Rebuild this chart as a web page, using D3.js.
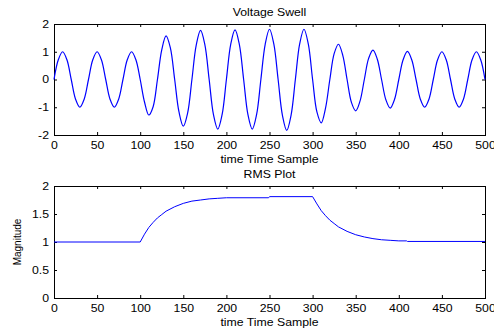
<!DOCTYPE html>
<html>
<head>
<meta charset="utf-8">
<script src="https://cdn.jsdelivr.net/npm/d3@7"></script>
<style>
  body { margin: 0; background: #fff; }
  svg { display: block; }
  text { font-family: "Liberation Sans", Arial, sans-serif; }
</style>
</head>
<body>
<svg class="mainSvg"></svg>
<script>
(function () {

  // ===========================================================================
  //     data area
  // ===========================================================================
  const swellSample = [
    0, 5, 10, 15, 20, 25, 30, 35, 40, 45, 50, 55, 60, 65, 70, 75, 80, 85, 90, 95,
    100, 105, 110, 115, 120, 125, 130, 135, 140, 145, 150, 155, 160, 165, 170, 175, 180, 185, 190, 195,
    200, 205, 210, 215, 220, 225, 230, 235, 240, 245, 250, 255, 260, 265, 270, 275, 280, 285, 290, 295,
    300, 305, 310, 315, 320, 325, 330, 335, 340, 345, 350, 355, 360, 365, 370, 375, 380, 385, 390, 395,
    400, 405, 410, 415, 420, 425, 430, 435, 440, 445, 450, 455, 460, 465, 470, 475, 480, 485, 490, 495, 500,
  ];
  const swellValue = [
    0, 0.71, 1.0, 0.71, 0, -0.71, -1.0, -0.71, 0, 0.71, 1.0, 0.71, 0, -0.71, -1.0, -0.71, 0, 0.71, 1.0, 0.71,
    0, -0.81, -1.28, -0.98, 0, 1.07, 1.57, 1.14, 0, -1.17, -1.68, -1.21, 0, 1.24, 1.77, 1.26, 0, -1.27, -1.79, -1.27,
    0, 1.27, 1.79, 1.27, 0, -1.27, -1.79, -1.27, 0, 1.27, 1.81, 1.28, 0, -1.29, -1.83, -1.29, 0, 1.28, 1.81, 1.28,
    0, -1.17, -1.56, -1.03, 0, 0.93, 1.27, 0.87, 0, -0.82, -1.13, -0.78, 0, 0.76, 1.06, 0.74, 0, -0.73, -1.03, -0.72,
    0, 0.71, 1.01, 0.71, 0, -0.71, -1.0, -0.71, 0, 0.71, 1.0, 0.71, 0, -0.71, -1.0, -0.71, 0, 0.71, 1.0, 0.71, 0,
  ];

  const rmsSample = [0, 100, 105, 110, 115, 120, 125, 130, 140, 150, 160, 170, 180, 190, 200, 249, 250, 300,
    305, 310, 315, 320, 325, 330, 340, 350, 360, 370, 380, 390, 400, 409, 410, 500];
  const rmsValue = [1.0, 1.0, 1.14, 1.26, 1.35, 1.43, 1.49, 1.55, 1.63, 1.69, 1.73, 1.75, 1.77, 1.78, 1.79, 1.79, 1.81, 1.81,
    1.68, 1.56, 1.47, 1.39, 1.33, 1.27, 1.19, 1.13, 1.09, 1.06, 1.04, 1.03, 1.02, 1.02, 1.01, 1.01];

  const xTicks = [0, 50, 100, 150, 200, 250, 300, 350, 400, 450, 500];
  const swellTicks = [-2, -1, 0, 1, 2];
  const rmsTicks = [0, 0.5, 1, 1.5, 2];

  const initWidth = 494;
  const initHeight = 331;
  const left = 54;
  const right = 485;
  const fontSize = 10.5;
  const stretch = 1.17; // text in the picture is drawn a bit wide
  const tickLen = 3;

  const svg = d3.select('.mainSvg')
    .attr('width', initWidth)
    .attr('height', initHeight);

  const x = d3.scaleLinear().domain([0, 500]).range([left, right]);

  function drawPanel(cfg) {
    const y = d3.scaleLinear().domain(cfg.domain).range([cfg.bottom, cfg.top]);
    const g = svg.append('g');
    const fmt = d => String(d);

    // ticks on all four sides, pointing in
    const axes = [
      { axis: d3.axisBottom(x).tickValues(xTicks).tickFormat(fmt).tickPadding(6.8), tr: `translate(0,${cfg.bottom})` },
      { axis: d3.axisTop(x).tickValues(xTicks).tickFormat(''), tr: `translate(0,${cfg.top})` },
      { axis: d3.axisLeft(y).tickValues(cfg.ticks).tickFormat(fmt).tickPadding(4.3), tr: `translate(${left},0)` },
      { axis: d3.axisRight(y).tickValues(cfg.ticks).tickFormat(''), tr: `translate(${right},0)` },
    ];
    axes.forEach(function (a) {
      const ag = g.append('g')
        .attr('transform', a.tr)
        .call(a.axis.tickSizeInner(-tickLen).tickSizeOuter(0));
      ag.select('.domain').remove();
      ag.attr('font-family', null).attr('font-size', fontSize);
      ag.selectAll('line').attr('stroke', '#000');
      ag.selectAll('text')
        .attr('fill', '#000')
        .attr('transform', `scale(${stretch},1)`);
    });

    g.append('rect')
      .attr('x', left + 0.5)
      .attr('y', cfg.top + 0.5)
      .attr('width', right - left)
      .attr('height', cfg.bottom - cfg.top)
      .attr('fill', 'none')
      .attr('stroke', '#000')
      .attr('stroke-width', 1);

    const line = d3.line()
      .x((d, i) => x(cfg.sample[i]))
      .y(d => y(d))
      .curve(cfg.curve);

    g.append('path')
      .attr('d', line(cfg.values))
      .attr('fill', 'none')
      .attr('stroke', '#0000ff')
      .attr('stroke-width', cfg.lineWidth);

    // title and x label
    g.append('text')
      .attr('transform', `translate(${(left + right) / 2},${cfg.top - 8}) scale(${stretch},1)`)
      .attr('text-anchor', 'middle')
      .attr('font-size', fontSize)
      .text(cfg.title);

    g.append('text')
      .attr('transform', `translate(${(left + right) / 2},${cfg.bottom + 27.5}) scale(${stretch},1)`)
      .attr('text-anchor', 'middle')
      .attr('font-size', fontSize)
      .text('time Time Sample');

    if (cfg.ylabel) {
      g.append('text')
        .attr('transform', `translate(21,${(cfg.top + cfg.bottom) / 2}) scale(${stretch},1) rotate(-90)`)
        .attr('text-anchor', 'middle')
        .attr('font-size', 10)
        .text(cfg.ylabel);
    }
  }

  drawPanel({
    top: 24,
    bottom: 135,
    domain: [-2, 2],
    ticks: swellTicks,
    sample: swellSample,
    values: swellValue,
    curve: d3.curveCatmullRom,
    lineWidth: 1.2,
    title: 'Voltage Swell',
  });

  drawPanel({
    top: 186,
    bottom: 298,
    domain: [0, 2],
    ticks: rmsTicks,
    sample: rmsSample,
    values: rmsValue,
    curve: d3.curveLinear,
    lineWidth: 1,
    title: 'RMS Plot',
    ylabel: 'Magnitude',
  });
})();
</script>
</body>
</html>
